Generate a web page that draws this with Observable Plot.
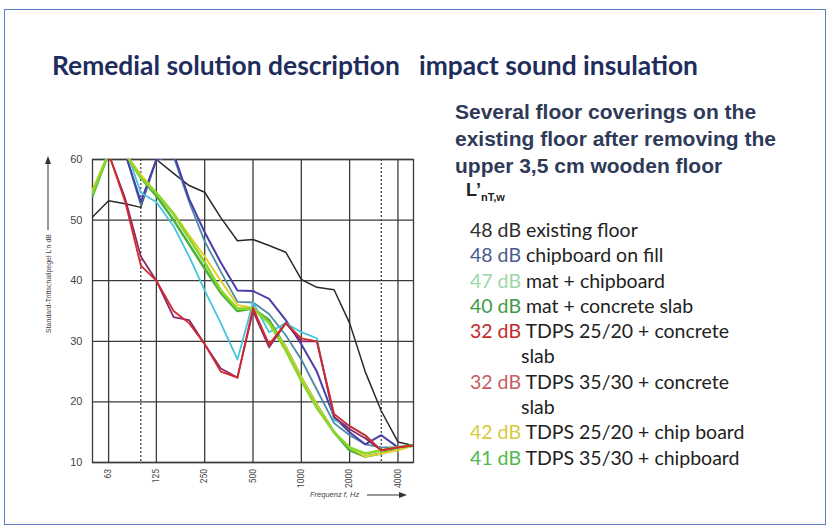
<!DOCTYPE html>
<html>
<head>
<meta charset="utf-8">
<script src="https://cdn.jsdelivr.net/npm/d3@7"></script>
<script src="https://cdn.jsdelivr.net/npm/@observablehq/plot@0.6"></script>
<style>
  html, body { margin: 0; padding: 0; background: #fff; }
  #page { position: relative; width: 830px; height: 530px; overflow: hidden; background: #fff; }
  #border { position: absolute; left: 4px; top: 9px; width: 820px; height: 514px; border: 1.5px solid #5b7fc7; }
  #title { position: absolute; left: 52px; top: 49px; font-family: Lato, "Liberation Sans", sans-serif; font-weight: 700; font-size: 26.4px; color: #1f2d5c; white-space: pre; }
  #heading { position: absolute; left: 455px; top: 98px; font-family: "Liberation Sans", Arial, sans-serif; font-weight: 700; font-size: 21px; line-height: 27px; color: #2e3a58; }
  #lsym { position: absolute; left: 466px; top: 180px; font-family: "Liberation Sans", Arial, sans-serif; font-weight: 700; font-size: 18px; color: #222; }
  #lsym sub { font-size: 11px; vertical-align: -5px; }
  #legend { position: absolute; left: 470px; top: 217px; font-family: Lato, "Liberation Sans", sans-serif; font-size: 19.5px; line-height: 25.3px; color: #222; }
  #legend .row { white-space: pre; }
  #legend .cont { padding-left: 51px; }
  #chart { position: absolute; left: 0px; top: 140px; }
  #ylab { position: absolute; left: 44px; top: 333px; transform-origin: 0 0; transform: rotate(-90deg); font-family: "Liberation Sans", Arial, sans-serif; font-size: 7px; color: #444; white-space: pre; display: flex; align-items: center; }
  #xlab { position: absolute; left: 310px; top: 490px; font-family: "Liberation Sans", Arial, sans-serif; font-size: 7.5px; font-style: italic; color: #444; white-space: pre; display: flex; align-items: center; }
</style>
</head>
<body>
<div id="page">
  <div id="border"></div>
  <div id="ylab"><span>Standard-Trittschallpegel L’n dB </span><svg width="76" height="8"><line x1="2" y1="4" x2="70" y2="4" stroke="#333" stroke-width="1"/><path d="M76,4 L68,1 L68,7 Z" fill="#333"/></svg></div>
  <div id="xlab"><span>Frequenz f, Hz </span><svg width="48" height="8"><line x1="6" y1="4" x2="40" y2="4" stroke="#333" stroke-width="1"/><path d="M46,4 L38,1 L38,7 Z" fill="#333"/></svg></div>
  <div id="title">Remedial solution description   impact sound insulation</div>
  <div id="heading">Several floor coverings on the<br>existing floor after removing the<br>upper 3,5 cm wooden floor</div>
  <div id="lsym">L’<sub>nT,w</sub></div>
  <div id="legend"></div>
  <div id="chart"></div>
</div>
<script>
// Third-octave band centre frequencies (Hz)
const bands = [50, 63, 80, 100, 125, 160, 200, 250, 315, 400, 500, 630, 800, 1000, 1250, 1600, 2000, 2500, 3150, 4000, 5000];

// Standard impact sound pressure level L'nT (dB) per band
const existingFloor   = [50.5, 53.2, 52.7, 52.1, 60, 57.7, 55.7, 54.6, 50.4, 46.6, 46.8, 45.8, 44.7, 40.2, 38.9, 38.5, 33, 25, 18.5, 13.4, 12.8];
const chipboardOnFill = [61, 62, 61, 53, 60, 61, 53.5, 48, 43, 38.4, 38.3, 37, 33.5, 29.5, 25, 17.5, 15, 13, 14.5, 12.5, 12.8];
const chipboardAlt    = [62, 62, 61, 52.5, 60, 60.5, 53, 46.5, 41.5, 36.5, 36.4, 34.5, 31, 27, 22, 16.5, 14.5, 13, 12.5, 12.5, 12.8];
const matChipboard    = [64, 63, 62, 54.5, 53, 49, 44, 38.4, 33, 27, 36.4, 31.5, 33, 31.5, 30.5, 17, 16, 14.5, 12, 12.5, 12.8];
const matConcrete     = [54, 61, 61, 57, 54, 50, 46, 42, 38, 35, 35.4, 33.5, 29, 24, 19.5, 15, 12, 11, 11.5, 12.5, 12.8];
const tdps2520Conc    = [62, 61, 53, 42.5, 40, 35, 33, 29.5, 25, 24, 35.5, 29.5, 33, 30.5, 30, 18, 16, 14.5, 12, 12.5, 12.8];
const tdps3530Conc    = [62, 61, 53.5, 44, 40, 34, 33.5, 29.5, 25.5, 24, 35, 29, 33, 30, 30, 17.5, 15.5, 14, 12, 12.5, 12.8];
const tdps2520Chip    = [55, 61, 61, 57.5, 54.5, 51.2, 47.5, 44, 40, 36, 35.5, 33, 29, 24, 19.5, 15, 12.5, 11, 11.5, 12, 12.8];
const tdps3530Chip    = [54.5, 61, 61, 57, 54.5, 51, 47, 43, 38.4, 35.4, 35.4, 33, 28.5, 23.5, 19, 15, 12.5, 11.5, 12, 12.5, 12.8];

const seriesNames  = ["existing floor", "chipboard on fill (2)", "chipboard on fill", "mat + chipboard", "mat + concrete slab", "TDPS 25/20 + chip board", "TDPS 35/30 + chipboard", "TDPS 35/30 + concrete slab", "TDPS 25/20 + concrete slab"];
const seriesValues = [existingFloor, chipboardAlt, chipboardOnFill, matChipboard, matConcrete, tdps2520Chip, tdps3530Chip, tdps3530Conc, tdps2520Conc];
const seriesColors = ["#2a2a2a", "#4f8aa6", "#4a3fa8", "#45c4de", "#4db040", "#e6cf2a", "#8ad62c", "#8a2a6a", "#d42a2a"];
const seriesWidths = [1.5, 1.8, 2, 1.8, 2.6, 2, 2.6, 1.8, 1.8];

// Legend (text list)
const legendRatings = ["48 dB", "48 dB", "47 dB", "40 dB", "32 dB", "32 dB", "42 dB", "41 dB"];
const legendLabels  = ["existing floor", "chipboard on fill", "mat + chipboard", "mat + concrete slab", "TDPS 25/20 + concrete", "TDPS 35/30 + concrete", "TDPS 25/20 + chip board", "TDPS 35/30 + chipboard"];
const legendCont    = [null, null, null, null, "slab", "slab", null, null];
const legendColors  = ["#2e2e2e", "#4a5a8c", "#9ad8a8", "#3f9a46", "#c42a2a", "#c46060", "#d6cc3a", "#4fb84a"];

const xTicks = [63, 125, 250, 500, 1000, 2000, 4000];
const xTickLabels = ["63", "125", "250", "500", "1000", "2000", "4000"];
const yTicks = [10, 20, 30, 40, 50, 60];
const dottedFreqs = [100, 3150];

const xLabelRows = xTicks.map((f, i) => ({f, label: xTickLabels[i]}));

const marks = [
  Plot.ruleX(xTicks, {stroke: "#3a3a3a", strokeWidth: 1.3}),
  Plot.ruleY(yTicks, {stroke: "#3a3a3a", strokeWidth: 1.3}),
  Plot.ruleX(dottedFreqs, {stroke: "#444", strokeWidth: 1.3, strokeDasharray: "2,2"}),
  Plot.frame({stroke: "#3a3a3a", strokeWidth: 1.3})
];
seriesValues.forEach((vals, i) => {
  const rows = bands.map((f, j) => ({f, v: vals[j], s: seriesNames[i]}));
  marks.push(Plot.line(rows, {x: "f", y: "v", stroke: seriesColors[i], strokeWidth: seriesWidths[i], clip: true, strokeLinejoin: "round"}));
});
marks.push(Plot.text(xLabelRows, {x: "f", frameAnchor: "bottom", dy: 6.5, rotate: -90, textAnchor: "end", lineAnchor: "middle", text: "label", fontSize: 8.5, fontFamily: "Roboto, 'Liberation Sans', sans-serif", fill: "#444"}));

const chart = Plot.plot({
  width: 440,
  height: 370,
  marginLeft: 92,
  marginRight: 27,
  marginTop: 19,
  marginBottom: 48,
  style: {fontFamily: "'Liberation Sans', Arial, sans-serif", fontSize: "11px", color: "#444", background: "transparent"},
  x: {type: "log", domain: [50, 5000], axis: null},
  y: {domain: [10, 60], ticks: yTicks, tickSize: 0, tickPadding: 10, label: null},
  marks
});
document.getElementById("chart").appendChild(chart);

const legend = document.getElementById("legend");
legendRatings.forEach((r, i) => {
  const row = document.createElement("div");
  row.className = "row";
  const sp = document.createElement("span");
  sp.style.color = legendColors[i];
  sp.textContent = r;
  row.appendChild(sp);
  row.appendChild(document.createTextNode(" " + legendLabels[i]));
  legend.appendChild(row);
  if (legendCont[i]) {
    const c = document.createElement("div");
    c.className = "row cont";
    c.textContent = legendCont[i];
    legend.appendChild(c);
  }
});
</script>
</body>
</html>
